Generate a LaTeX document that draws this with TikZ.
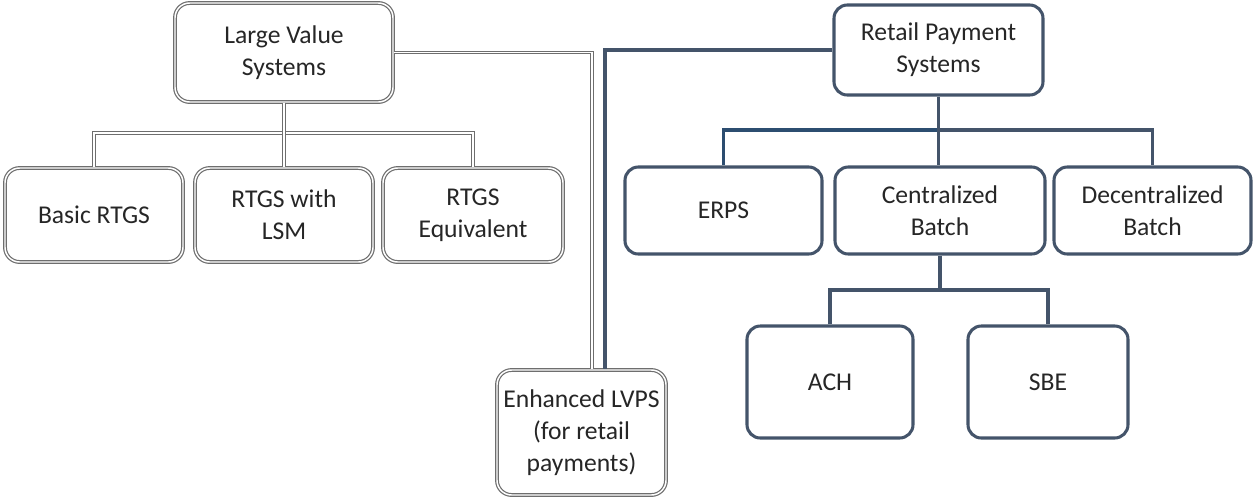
\documentclass[tikz,border=0pt]{standalone}
\usepackage{fontspec}
\setmainfont{Carlito}
\usetikzlibrary{calc}
\definecolor{slate}{HTML}{44546A}
\definecolor{rblue}{HTML}{2C4D70}
\definecolor{lgray}{HTML}{6E6E6E}
\definecolor{txt}{HTML}{262626}
\tikzset{
  every node/.style={font=\fontsize{19.2}{24}\selectfont, text=txt, align=center, inner sep=0pt},
  lbox/.style={draw=lgray, line width=0.9pt, double=white, double distance=1.1pt, rounded corners=11pt, fill=white},
  rbox/.style={draw=slate, line width=2.3pt, rounded corners=10pt, fill=white},
  dline/.style={draw=lgray, line width=0.9pt, double=white, double distance=1.1pt},
  rline/.style={draw=slate, line width=2.3pt},
}
\begin{document}
\begin{tikzpicture}[x=0.75pt,y=-0.75pt]
\useasboundingbox (0,0) rectangle (1254,497);
% coordinates for junctions
\coordinate (lbar) at (285,133);
\coordinate (rbar) at (938,130);
\coordinate (rbar2) at (940,290);

% left boxes
\node[lbox, minimum width=163.5pt, minimum height=74.25pt] (lvs) at (284,52.5) {Large Value\\Systems};
\node[lbox, minimum width=133.5pt, minimum height=70.5pt] (basic) at (94,215) {Basic RTGS};
\node[lbox, minimum width=133.5pt, minimum height=70.5pt] (lsm) at (284,215) {RTGS with\\LSM};
\node[lbox, minimum width=135pt, minimum height=70.5pt] (equiv) at (473,215) {RTGS\\Equivalent};
\node[lbox, minimum width=126.75pt, minimum height=93.75pt] (elv) at (581.5,432.5) {Enhanced LVPS\\(for retail\\payments)};

% right boxes
\node[rbox, minimum width=156.75pt, minimum height=67.5pt] (rps) at (938.5,50) {Retail Payment\\Systems};
\node[rbox, minimum width=147.75pt, minimum height=65.25pt] (erps) at (723.5,210.5) {ERPS};
\node[rbox, minimum width=157.5pt, minimum height=65.25pt] (cb) at (940,210.5) {Centralized\\Batch};
\node[rbox, minimum width=147.75pt, minimum height=65.25pt] (db) at (1152.5,210.5) {Decentralized\\Batch};
\node[rbox, minimum width=124.5pt, minimum height=84pt] (ach) at (830,382) {ACH};
\node[rbox, minimum width=120pt, minimum height=84pt] (sbe) at (1048,382) {SBE};

% left connectors
\draw[dline] (basic.north) |- (lbar) -| (equiv.north);
\draw[dline] (lvs.south) -- (lvs.south |- lsm.north);
\draw[dline] (lvs.east) -| ($(elv.north)+(10.5,0)$);

% right connectors
\draw[rline] (rps.west) -| ($(elv.north)+(23.5,0)$);
\draw[rline, draw=rblue] (erps.north) |- (rbar);
\draw[rline] (rbar) -| (db.north);
\draw[rline] (rps.south) -- (rps.south |- cb.north);
\draw[rline] (ach.north) |- (rbar2) -| (sbe.north);
\draw[rline] (cb.south) -- (rbar2);
\end{tikzpicture}
\end{document}
